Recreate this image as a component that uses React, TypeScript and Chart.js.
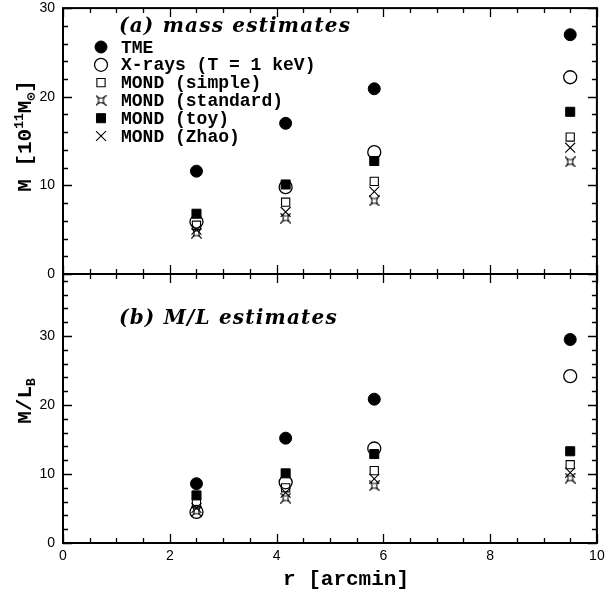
import React, { useEffect, useRef } from 'react';
import { Chart, registerables } from 'chart.js';
import { drawPoint } from 'chart.js/helpers';

Chart.register(...registerables);

// ---------------- data ----------------
const radii = [2.5, 4.17, 5.83, 9.5];
const seriesLabels = ['TME', 'X-rays (T = 1 keV)', 'MOND (simple)', 'MOND (standard)', 'MOND (toy)', 'MOND (Zhao)'];

const massTME = [11.6, 17.0, 20.9, 27.0];
const massXray = [5.9, 9.8, 13.75, 22.2];
const massSimple = [5.5, 8.1, 10.45, 15.45];
const massStandard = [4.6, 6.3, 8.25, 12.65];
const massToy = [6.8, 10.1, 12.75, 18.3];
const massZhao = [5.0, 7.0, 9.3, 14.25];

const mlTME = [8.6, 15.2, 20.85, 29.5];
const mlXray = [4.5, 8.8, 13.7, 24.2];
const mlSimple = [5.8, 8.0, 10.5, 11.35];
const mlStandard = [4.6, 6.5, 8.3, 9.4];
const mlToy = [6.9, 10.1, 12.9, 13.3];
const mlZhao = [5.1, 7.3, 9.3, 10.2];

const xTicks = [0, 2, 4, 6, 8, 10];
const massTicks = [0, 10, 20, 30];
const mlTicks = [0, 10, 20, 30];

// ---------------- layout ----------------
const W = 605;
const H = 597;
const LEFT = 63;
const RIGHT = 598;
const TOP = 8;
const MID = 274;
const BOT = 543;

const MONO = '"Liberation Mono", "DejaVu Sans Mono", monospace';
const SANS = '"Liberation Sans", Arial, sans-serif';
const SERIF = '"DejaVu Serif", serif';

function makeStar(): HTMLCanvasElement {
  const c = document.createElement('canvas');
  c.width = 11;
  c.height = 11;
  const g = c.getContext('2d')!;
  g.translate(5.5, 5.5);
  g.strokeStyle = '#000';
  g.lineWidth = 1.1;
  const a = 3.6;
  g.beginPath();
  g.moveTo(-a, -a);
  g.quadraticCurveTo(0, -1, a, -a);
  g.quadraticCurveTo(1, 0, a, a);
  g.quadraticCurveTo(0, 1, -a, a);
  g.quadraticCurveTo(-1, 0, -a, -a);
  g.closePath();
  g.stroke();
  g.beginPath();
  g.moveTo(-a - 1.3, -a - 1.3); g.lineTo(-a, -a);
  g.moveTo(a + 1.3, -a - 1.3); g.lineTo(a, -a);
  g.moveTo(a + 1.3, a + 1.3); g.lineTo(a, a);
  g.moveTo(-a - 1.3, a + 1.3); g.lineTo(-a, a);
  g.stroke();
  return c;
}

type Part = { t: string; size: number; dy?: number };

function drawRich(ctx: CanvasRenderingContext2D, parts: Part[], cx: number, cy: number, rotate: boolean) {
  ctx.save();
  ctx.translate(cx, cy);
  if (rotate) ctx.rotate(-Math.PI / 2);
  let total = 0;
  const widths = parts.map((p) => {
    ctx.font = `bold ${p.size}px ${MONO}`;
    const w = ctx.measureText(p.t).width;
    total += w;
    return w;
  });
  let x = -total / 2;
  ctx.fillStyle = '#000';
  ctx.textBaseline = 'alphabetic';
  ctx.textAlign = 'left';
  parts.forEach((p, i) => {
    ctx.font = `bold ${p.size}px ${MONO}`;
    ctx.fillText(p.t, x, 7 + (p.dy || 0));
    x += widths[i];
  });
  ctx.restore();
}

function framePlugin(yMax: number, extra: (chart: any) => void) {
  return {
    id: 'frame',
    afterDraw(chart: any) {
      const ctx = chart.ctx as CanvasRenderingContext2D;
      const a = chart.chartArea;
      const xs = chart.scales.x;
      const ys = chart.scales.y;
      ctx.save();
      ctx.strokeStyle = '#000';
      ctx.lineWidth = 1.3;
      ctx.beginPath();
      for (let v = 0; v <= 10.001; v += 0.5) {
        const px = Math.round(xs.getPixelForValue(v)) + 0.5;
        const major = Math.abs(v % 2) < 1e-6;
        const len = major ? 9 : 5;
        ctx.moveTo(px, a.top);
        ctx.lineTo(px, a.top + len);
        ctx.moveTo(px, a.bottom);
        ctx.lineTo(px, a.bottom - len);
      }
      for (let v = 0; v <= yMax + 0.001; v += 2) {
        const py = Math.round(ys.getPixelForValue(v)) + 0.5;
        const major = Math.abs(v % 10) < 1e-6;
        const len = major ? 9 : 5;
        ctx.moveTo(a.left, py);
        ctx.lineTo(a.left + len, py);
        ctx.moveTo(a.right, py);
        ctx.lineTo(a.right - len, py);
      }
      ctx.stroke();
      ctx.lineWidth = 2;
      ctx.strokeRect(a.left, a.top, a.right - a.left, a.bottom - a.top);
      ctx.restore();
      extra(chart);
    },
  };
}

function panelLabel(ctx: CanvasRenderingContext2D, text: string, x: number, y: number) {
  ctx.save();
  ctx.fillStyle = '#000';
  ctx.font = `italic bold 20px ${SERIF}`;
  ctx.textBaseline = 'alphabetic';
  ctx.textAlign = 'left';
  (ctx as any).letterSpacing = '1.2px';
  ctx.fillText(text, x, y);
  ctx.restore();
}

export default function App() {
  const topRef = useRef<HTMLCanvasElement>(null);
  const botRef = useRef<HTMLCanvasElement>(null);

  useEffect(() => {
    document.body.style.margin = '0';
    const star = makeStar();
    const styles = [
      { pointStyle: 'circle', radius: 6, bg: '#000', bw: 1 },
      { pointStyle: 'circle', radius: 6.5, bg: 'rgba(0,0,0,0)', bw: 1.3 },
      { pointStyle: 'rect', radius: 5.8, bg: 'rgba(0,0,0,0)', bw: 1.1 },
      { pointStyle: star, radius: 5, bg: 'rgba(0,0,0,0)', bw: 1 },
      { pointStyle: 'rect', radius: 6.4, bg: '#000', bw: 1 },
      { pointStyle: 'crossRot', radius: 7, bg: 'rgba(0,0,0,0)', bw: 1.1 },
    ];

    const mk = (vals: number[][]) =>
      vals.map((arr, i) => ({
        label: seriesLabels[i],
        data: arr.map((y, j) => ({ x: radii[j], y })),
        showLine: false,
        pointStyle: styles[i].pointStyle as any,
        pointRadius: styles[i].radius,
        pointBackgroundColor: styles[i].bg,
        pointBorderColor: '#000',
        pointBorderWidth: styles[i].bw,
        order: i,
      }));

    const tickFont = { family: SANS, size: 14, lineHeight: 1 };

    const yAfterFit = (s: any) => {
      s.width = LEFT;
      s.paddingTop = 0;
      s.paddingBottom = 0;
    };

    const topDraw = (chart: any) => {
      const ctx = chart.ctx as CanvasRenderingContext2D;
      panelLabel(ctx, '(a) mass estimates', 119, 32);
      ctx.save();
      ctx.fillStyle = '#000';
      ctx.font = `bold 18px ${MONO}`;
      ctx.textBaseline = 'middle';
      seriesLabels.forEach((lab, i) => {
        const y = 47 + i * 17.8;
        const st = styles[i];
        ctx.save();
        ctx.fillStyle = st.bg;
        ctx.strokeStyle = '#000';
        ctx.lineWidth = st.bw;
        drawPoint(ctx, { pointStyle: st.pointStyle as any, radius: st.radius, rotation: 0, borderWidth: st.bw } as any, 101, y);
        ctx.restore();
        ctx.fillStyle = '#000';
        ctx.fillText(lab, 121, y + 1);
      });
      ctx.restore();
      drawRich(ctx, [
        { t: 'M [10', size: 21 },
        { t: '11', size: 13, dy: -8 },
        { t: 'M', size: 21 },
        { t: '\u2299', size: 13, dy: 4 },
        { t: ']', size: 21 },
      ], 24, 136, true);
    };

    const botDraw = (chart: any) => {
      const ctx = chart.ctx as CanvasRenderingContext2D;
      panelLabel(ctx, '(b) M/L estimates', 119, 324);
      drawRich(ctx, [
        { t: 'M/L', size: 21 },
        { t: 'B', size: 13, dy: 4 },
      ], 24, 401, true);
      drawRich(ctx, [{ t: 'r [arcmin]', size: 21 }], 346, 578, false);
    };

    const top = new Chart(topRef.current!, {
      type: 'scatter',
      data: { datasets: mk([massTME, massXray, massSimple, massStandard, massToy, massZhao]) as any },
      options: {
        animation: false,
        responsive: false,
        events: [],
        layout: { padding: { left: 0, right: W - RIGHT, top: TOP, bottom: H - MID } },
        plugins: { legend: { display: false }, tooltip: { enabled: false } },
        scales: {
          x: { type: 'linear', min: 0, max: 10, display: false },
          y: {
            type: 'linear', min: 0, max: 30,
            afterBuildTicks: (s: any) => { s.ticks = massTicks.map((v) => ({ value: v })); },
            ticks: { padding: 8, font: tickFont, color: '#000' },
            grid: { display: false, drawTicks: false },
            border: { display: false },
            afterFit: yAfterFit,
          },
        },
      } as any,
      plugins: [framePlugin(30, topDraw)],
    });

    const bot = new Chart(botRef.current!, {
      type: 'scatter',
      data: { datasets: mk([mlTME, mlXray, mlSimple, mlStandard, mlToy, mlZhao]) as any },
      options: {
        animation: false,
        responsive: false,
        events: [],
        layout: { padding: { left: 0, right: W - RIGHT, top: MID, bottom: 0 } },
        plugins: { legend: { display: false }, tooltip: { enabled: false } },
        scales: {
          x: {
            type: 'linear', min: 0, max: 10,
            afterBuildTicks: (s: any) => { s.ticks = xTicks.map((v) => ({ value: v })); },
            ticks: { padding: 6, font: tickFont, color: '#000', maxRotation: 0 },
            grid: { display: false, drawTicks: false },
            border: { display: false },
            afterFit: (s: any) => { s.height = H - BOT; s.paddingLeft = 0; s.paddingRight = 0; },
          },
          y: {
            type: 'linear', min: 0, max: 39,
            afterBuildTicks: (s: any) => { s.ticks = mlTicks.map((v) => ({ value: v })); },
            ticks: { padding: 8, font: tickFont, color: '#000' },
            grid: { display: false, drawTicks: false },
            border: { display: false },
            afterFit: yAfterFit,
          },
        },
      } as any,
      plugins: [framePlugin(39, botDraw)],
    });

    return () => {
      top.destroy();
      bot.destroy();
    };
  }, []);

  const cs: React.CSSProperties = { position: 'absolute', left: 0, top: 0, display: 'block' };
  return (
    <div style={{ position: 'relative', width: W, height: H, background: '#fff' }}>
      <canvas ref={topRef} width={W} height={H} style={cs} />
      <canvas ref={botRef} width={W} height={H} style={cs} />
    </div>
  );
}
